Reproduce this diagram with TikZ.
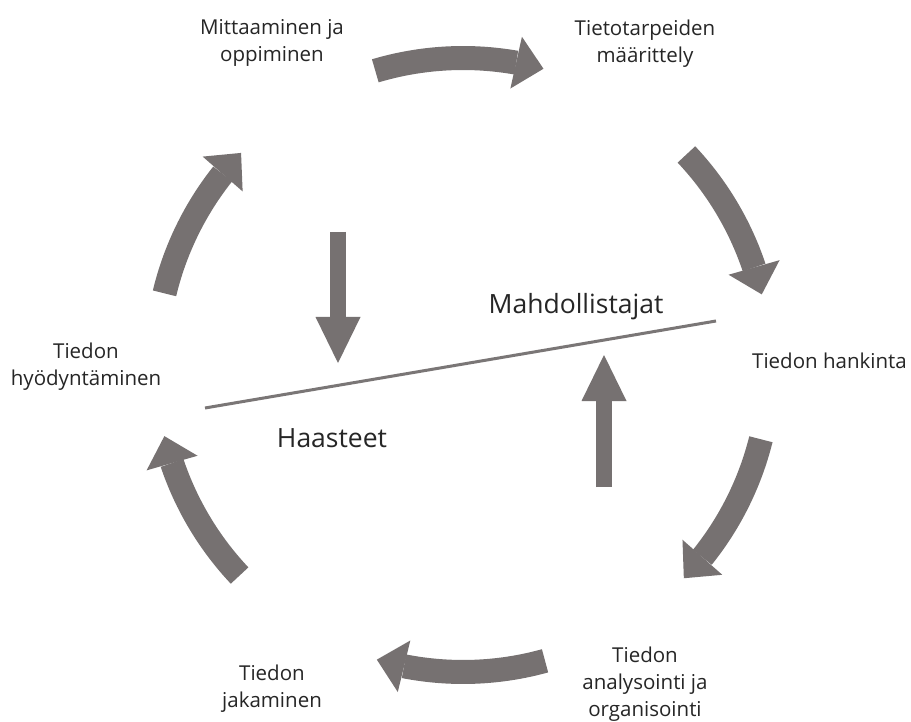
\documentclass[tikz,border=0pt]{standalone}
\usepackage{fontspec}
\setmainfont{Open Sans}
\usetikzlibrary{arrows.meta,bending,calc}
\definecolor{arrowgray}{HTML}{767171}
\definecolor{linegray}{HTML}{7A7676}
\definecolor{labeltext}{HTML}{262626}
\tikzset{
  cyclearrow/.style={draw=arrowgray, line width=24pt, line cap=butt,
    -{Triangle[length=28pt,width=53pt,line width=0pt,flex]}},
  pusharrow/.style={draw=arrowgray, line width=16.5pt, line cap=butt,
    -{Triangle[length=46pt,width=45pt,line width=0pt]}},
  steplabel/.style={align=center, inner sep=0pt, anchor=base, text=labeltext,
    font=\fontsize{20.5}{27}\selectfont},
  sidelabel/.style={inner sep=0pt, anchor=base, text=labeltext,
    font=\fontsize{26.5}{32}\selectfont},
}
\begin{document}
\begin{tikzpicture}[x=1pt,y=1pt]
\useasboundingbox (0,0) rectangle (911,-722);
\fill[white] (0,0) rectangle (911,-722);

% centre of the cycle
\coordinate (C) at (463,-365);

% stages of the cycle (placed by the baseline of their last line)
\node[steplabel] (mit) at (272,-62) {Mittaaminen ja\\oppiminen};
\node[steplabel] (tar) at (645,-63) {Tietotarpeiden\\määrittely};
\node[steplabel, anchor=base west] (han) at (752,-368) {Tiedon hankinta};
\node[steplabel] (ana) at (645,-716) {Tiedon\\analysointi ja\\organisointi};
\node[steplabel] (jak) at (272,-707) {Tiedon\\jakaminen};
\node[steplabel] (hyo) at (86,-385) {Tiedon\\hyödyntäminen};

% curved arrows between the stages
\coordinate (a1) at ($(C)+(106.6:307)$);
\coordinate (a2) at ($(C)+(43.3:307)$);
\coordinate (a3) at ($(C)+(-14:307)$);
\coordinate (a4) at ($(C)+(-74.5:307)$);
\coordinate (a5) at ($(C)+(-136.7:307)$);
\coordinate (a6) at ($(C)+(166.5:307)$);
\draw[cyclearrow] (a1) arc[start angle=106.6, end angle=74.8, radius=307];
\draw[cyclearrow] (a2) arc[start angle=43.3, end angle=13.3, radius=307];
\draw[cyclearrow] (a3) arc[start angle=-14, end angle=-44, radius=307];
\draw[cyclearrow] (a4) arc[start angle=-74.5, end angle=-106.3, radius=307];
\draw[cyclearrow] (a5) arc[start angle=-136.7, end angle=-166.6, radius=307];
\draw[cyclearrow] (a6) arc[start angle=166.5, end angle=136.3, radius=307];

% dividing line between enablers and challenges
\coordinate (l1) at (205,-408);
\coordinate (l2) at (716,-321);
\draw[linegray, line width=3pt] (l1) -- (l2);

\node[sidelabel] (mah) at (576,-313) {Mahdollistajat};
\node[sidelabel] (haa) at (332,-447) {Haasteet};

% straight arrows towards the line
\coordinate (d1) at (338,-232);
\coordinate (d2) at (338,-363);
\draw[pusharrow] (d1) -- (d2);
\coordinate (u1) at (604,-487);
\coordinate (u2) at (604,-355);
\draw[pusharrow] (u1) -- (u2);
\end{tikzpicture}
\end{document}
